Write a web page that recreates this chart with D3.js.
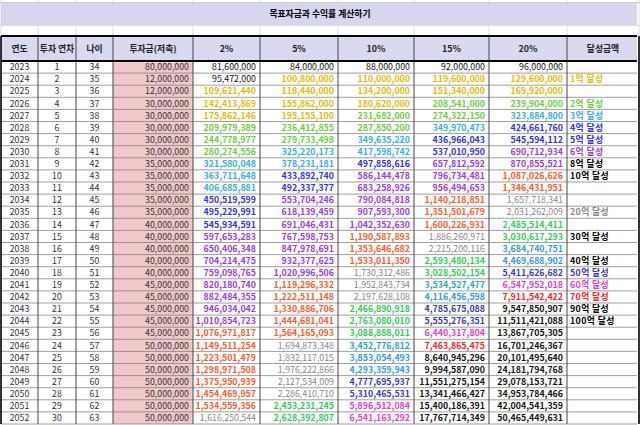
<!DOCTYPE html>
<html><head><meta charset="utf-8">
<script src="https://cdn.jsdelivr.net/npm/d3@7"></script>
<style>
body{margin:0;background:#fff;}
text{font-family:"Noto Sans CJK KR","Noto Sans",sans-serif;font-size:8.8px;}
</style></head><body>
<div id="sheet"></div>
<script>
var title = "목표자금과 수익률 계산하기";
var headers = ["연도", "투자 연차", "나이", "투자금(저축)", "2%", "5%", "10%", "15%", "20%", "달성금액"];
var years = d3.range(2023, 2053);
var invest = [80000000, 12000000, 12000000, 30000000, 30000000, 30000000, 30000000, 30000000,
  35000000, 35000000, 35000000, 35000000, 35000000, 40000000, 40000000, 40000000, 40000000, 40000000,
  45000000, 45000000, 45000000, 45000000, 45000000, 50000000, 50000000, 50000000, 50000000, 50000000, 50000000, 50000000];
var r2 = [81600000, 95472000, 109621440, 142413869, 175862146, 209979389, 244778977, 280274556, 321580048, 363711648,
  406685881, 450519599, 495229991, 545934591, 597653283, 650406348, 704214475, 759098765, 820180740, 882484355,
  946034042, 1010854723, 1076971817, 1149511254, 1223501479, 1298971508, 1375950939, 1454469957, 1534559356, 1616250544];
var r5 = [84000000, 100800000, 118440000, 155862000, 195155100, 236412855, 279733498, 325220173, 378231181, 433892740,
  492337377, 553704246, 618139459, 691046431, 767598753, 847978691, 932377625, 1020996506, 1119296332, 1222511148,
  1330886706, 1444681041, 1564165093, 1694873348, 1832117015, 1976222866, 2127534009, 2286410710, 2453231245, 2628392807];
var r10 = [88000000, 110000000, 134200000, 180620000, 231682000, 287850200, 349635220, 417598742, 497858616, 586144478,
  683258926, 790084818, 907593300, 1042352630, 1190587893, 1353646682, 1533011350, 1730312486, 1952843734, 2197628108,
  2466890918, 2763080010, 3088888011, 3452776812, 3853054493, 4293359943, 4777695937, 5310465531, 5896512084, 6541163292];
var r15 = [92000000, 119600000, 151340000, 208541000, 274322150, 349970473, 436966043, 537010950, 657812592, 796734481,
  956494653, 1140218851, 1351501679, 1600226931, 1886260971, 2215200116, 2593480134, 3028502154, 3534527477, 4116456598,
  4785675088, 5555276351, 6440317804, 7463865475, 8640945296, 9994587090, 11551275154, 13341466427, 15400186391, 17767714349];
var r20 = [96000000, 129600000, 169920000, 239904000, 323884800, 424661760, 545594112, 690712934, 870855521, 1087026626,
  1346431951, 1657718341, 2031262009, 2485514411, 3030617293, 3684740751, 4469688902, 5411626682, 6547952018, 7911542422,
  9547850907, 11511421088, 13867705305, 16701246367, 20101495640, 24181794768, 29078153721, 34953784466, 42004541359, 50465449631];
var goals = ["", "1억 달성", "", "2억 달성", "3억 달성", "4억 달성", "5억 달성", "6억 달성", "8억 달성", "10억 달성",
  "", "", "20억 달성", "", "30억 달성", "", "40억 달성", "50억 달성", "60억 달성", "70억 달성", "90억 달성", "100억 달성",
  "", "", "", "", "", "", "", ""];
var colW = [37, 38, 37, 80, 67, 78, 76, 75, 78, 72];

var W = 640, H = 425;
var svg = d3.select("#sheet").append("svg").attr("width", W).attr("height", H);
var edges = [0].concat(Array.from(d3.cumsum(colW)));
var x = i => edges[i] + 1;
var y = d3.scaleBand().domain(d3.range(30)).range([61, 424]);

var color = d3.scaleThreshold()
  .domain([1e8, 2e8, 3.2e8, 4.2e8, 5.5e8, 1.06e9, 1.61e9, 2.3e9, 3.3e9, 4.6e9, 5.7e9, 7e9, 8e9])
  .range(["#000", "#e2bd00", "#6ccf3a", "#2fb0ea", "#3030ee", "#9a3ae6", "#ff5a28", "#888",
    "#2ccf55", "#2f9be0", "#3a3ab8", "#e83ad0", "#ff2020", "#000"]);
// goal labels: black once the 20% value passes 8억 except where a target colour is shown
var goalColor = (v, k) => (k >= 8 && k <= 16 && k !== 12) ? "#000" : color(v);

// faint spreadsheet grid
edges.forEach(e => svg.append("line").attr("x1", e + 1).attr("x2", e + 1).attr("y1", 0).attr("y2", 36)
  .attr("stroke", "#ddd"));
svg.append("rect").attr("x", 1).attr("y", 3).attr("width", 636).attr("height", 22).attr("fill", "#d6d6ee");
svg.append("line").attr("x1", 0).attr("x2", W).attr("y1", 2.5).attr("y2", 2.5).attr("stroke", "#ccc");
svg.append("line").attr("x1", 0).attr("x2", W).attr("y1", 25.5).attr("y2", 25.5).attr("stroke", "#ddd");
svg.append("text").attr("x", 320).attr("y", 17).attr("text-anchor", "middle").attr("font-weight", "bold").text(title);

// header
svg.append("rect").attr("x", 1).attr("y", 36).attr("width", 636).attr("height", 25).attr("fill", "#d9d9f0");
headers.forEach((h, i) => svg.append("text").attr("x", x(i) + colW[i] / 2).attr("y", 52)
  .attr("text-anchor", "middle").attr("font-weight", "bold").attr("fill", "#222").text(h));

// pink invest column
svg.append("rect").attr("x", x(3)).attr("y", 61).attr("width", colW[3]).attr("height", 363).attr("fill", "#f0c8c8");

var fmt = d3.format(",");
var series = [r2, r5, r10, r15, r20];
var rows = svg.append("g");
years.forEach((yr, k) => {
  var cy = y(k) + y.bandwidth() / 2 + 3.2;
  [yr, k + 1, 34 + k].forEach((v, i) => rows.append("text").attr("x", x(i) + colW[i] / 2).attr("y", cy)
    .attr("text-anchor", "middle").attr("fill", "#333").text(v));
  rows.append("text").attr("x", x(4) - 4).attr("y", cy).attr("text-anchor", "end").attr("fill", "#333").text(fmt(invest[k]));
  series.forEach((s, j) => {
    var c = color(s[k]);
    rows.append("text").attr("x", x(5 + j) - 4).attr("y", cy).attr("text-anchor", "end")
      .attr("fill", c === "#000" ? "#111" : c)
      .attr("font-weight", (c === "#888" || (c === "#000" && s[k] < 1e8)) ? "normal" : "bold").text(fmt(s[k]));
  });
  if (goals[k]) rows.append("text").attr("x", x(9) + 3).attr("y", cy).attr("fill", goalColor(r20[k], k))
    .attr("font-weight", "bold").attr("font-size", "9.6px").attr("letter-spacing", "0.4px").text(goals[k]);
  svg.append("line").attr("x1", 1).attr("x2", 637).attr("y1", y(k) + y.bandwidth()).attr("y2", y(k) + y.bandwidth())
    .attr("stroke", "#777").attr("stroke-width", 0.7);
});

// column lines
edges.forEach((e, i) => svg.append("line").attr("x1", e + 1).attr("x2", e + 1).attr("y1", 36).attr("y2", 424)
  .attr("stroke", (i === 0 || i === edges.length - 1) ? "#000" : "#555")
  .attr("stroke-width", (i === 0 || i === edges.length - 1) ? 1.6 : 1.1));
[36, 61].forEach(v => svg.append("line").attr("x1", 1).attr("x2", 637).attr("y1", v).attr("y2", v)
  .attr("stroke", "#000").attr("stroke-width", 1.8));
</script>
</body></html>
